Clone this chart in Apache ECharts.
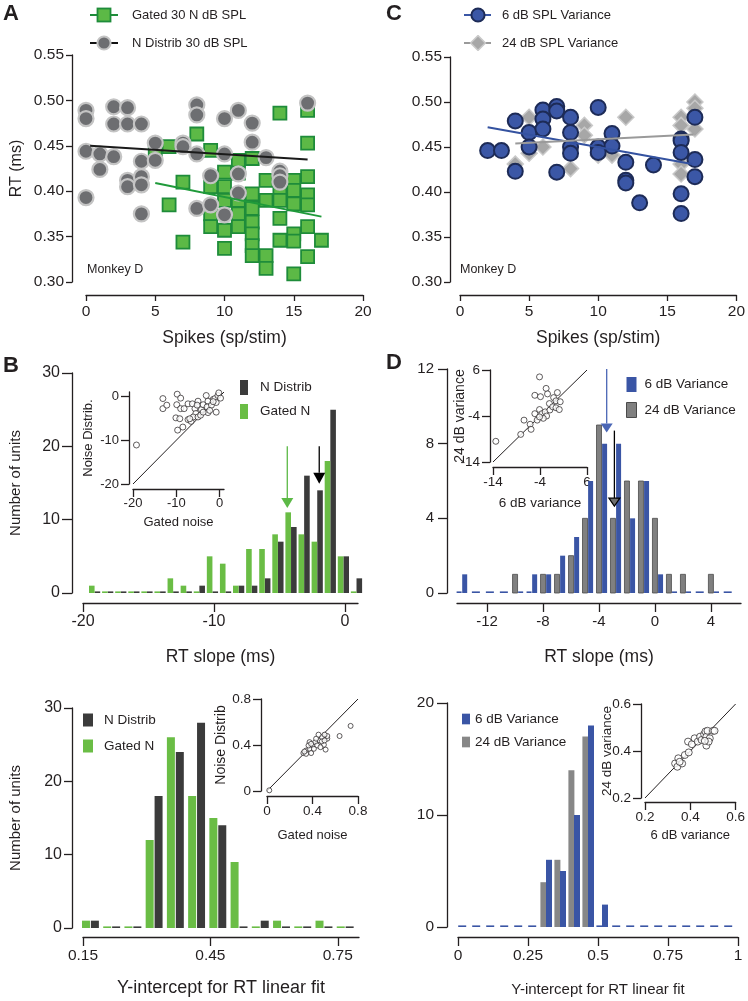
<!DOCTYPE html>
<html><head><meta charset="utf-8">
<script src="https://cdn.jsdelivr.net/npm/echarts@6/dist/echarts.min.js"></script>
<style>html,body{margin:0;padding:0;background:#fff}#c{width:748px;height:1001px}</style>
</head><body><div id="c"></div>
<script>
// ---------------- DATA ----------------
// Panel A: RT vs spikes (Monkey D)
const gatedA = [[5,0.445],[6,0.449],[6,0.385],[7,0.410],[7,0.344],[8,0.463],[9,0.445],[9,0.405],[9,0.375],[9,0.361],[10,0.421],[10,0.405],[10,0.390],[10,0.357],[10,0.337],[11,0.434],[11,0.420],[11,0.390],[11,0.375],[11,0.361],[12,0.436],[12,0.397],[12,0.381],[12,0.366],[12,0.353],[12,0.340],[12,0.329],[13,0.412],[13,0.390],[13,0.329],[13,0.315],[14,0.486],[14,0.401],[14,0.390],[14,0.370],[14,0.346],[15,0.412],[15,0.401],[15,0.386],[15,0.353],[15,0.345],[15,0.309],[16,0.489],[16,0.453],[16,0.416],[16,0.396],[16,0.385],[16,0.361],[16,0.328],[17,0.346]];
const ndistA = [[0,0.489],[0,0.480],[0,0.444],[0,0.393],[1,0.441],[1,0.424],[2,0.493],[2,0.474],[2,0.438],[3,0.492],[3,0.474],[3,0.412],[3,0.405],[4,0.474],[4,0.433],[4,0.416],[4,0.407],[4,0.375],[5,0.453],[5,0.434],[7,0.453],[7,0.449],[8,0.495],[8,0.484],[8,0.441],[8,0.381],[9,0.417],[9,0.385],[10,0.480],[10,0.441],[10,0.374],[11,0.489],[11,0.419],[11,0.398],[12,0.475],[12,0.454],[13,0.437],[14,0.422],[14,0.417],[14,0.410],[16,0.497]];
const fitNdistA = [[0.3,0.450],[16,0.435]];
const fitGatedA = [[5,0.409],[17,0.372]];

// Panel C
const var6C = [[2,0.446],[3,0.446],[4,0.479],[4,0.423],[5,0.466],[5,0.450],[6,0.491],[6,0.481],[6,0.470],[7,0.495],[7,0.490],[7,0.422],[8,0.483],[8,0.466],[8,0.450],[8,0.443],[10,0.494],[10,0.450],[10,0.444],[11,0.465],[11,0.451],[12,0.433],[12,0.413],[12,0.410],[13,0.388],[14,0.430],[16,0.459],[16,0.457],[16,0.444],[16,0.398],[16,0.376],[17,0.483],[17,0.436],[17,0.417]];
const var24C = [[4,0.431],[5,0.483],[5,0.443],[6,0.450],[7,0.492],[8,0.426],[9,0.474],[9,0.463],[10,0.441],[11,0.441],[12,0.483],[16,0.483],[16,0.474],[16,0.431],[16,0.420],[17,0.500],[17,0.493],[17,0.470]];
const fit6C = [[2,0.472],[16.8,0.431]];
const fit24C = [[4,0.454],[16.9,0.464]];

// Panel B: RT slope histograms
const slopeBinsB = [-19,-18,-17,-16,-15,-14,-13,-12,-11,-10,-9,-8,-7,-6,-5,-4,-3,-2,-1,0,1];
const ndistSlopeB = [0,0,0,0,0,0,0,0,1,0,0,1,1,2,7,9,16,14,25,5,2];
const gatedSlopeB = [1,0,0,0,0,0,2,1,0,5,4,1,6,6,8,11,8,7,18,5,0];
const arrowsB = [[-4.4,20,11.6],[-1.96,20,14.9]]; // [x, top, tip]
const insetB = [[-19.2,-11.1],[-13.1,-0.5],[-13.1,-2.8],[-12.2,-2.0],[-9.8,0.5],[-9.0,-0.4],[-9.9,-1.9],[-9.0,-2.8],[-10.1,-4.9],[-9.2,-5.1],[-8.5,-7.0],[-9.7,-7.7],[-8.2,-2.8],[-7.3,-1.7],[-7.3,-5.3],[-6.6,-5.7],[-6.3,-1.7],[-5.7,-2.8],[-5.0,-1.1],[-5.5,-3.9],[-6.1,-4.7],[-5.0,-4.7],[-4.4,-4.3],[-4.2,-3.0],[-3.8,-1.9],[-3.1,0.2],[-2.7,-1.1],[-2.9,-2.4],[-2.7,-3.7],[-1.9,-2.0],[-1.5,-0.7],[-1.1,-0.5],[-0.8,-1.4],[-0.4,0.2],[-0.8,-3.6],[-0.2,0.8],[0.2,-0.4],[-3.8,-3.6],[-2.3,-3.2],[-5.2,-2.0],[-6.9,-5.1],[-1.5,-1.2]];

// Panel D
const slopeBinsD = [-14,-13,-12,-11,-10,-9,-8,-7,-6,-5,-4,-3,-2,-1,0,1,2,3,4,5];
const var24SlopeD = [0,0,0,0,1,0,1,1,2,4,9,4,6,6,4,1,1,0,1,0];
const var6SlopeD = [1,0,0,0,0,1,1,2,3,6,8,8,4,6,1,0,0,0,0,0];
const arrowsD6 = [[-3.45,12,8.6]];
const arrowsD24 = [[-2.9,8.7,4.65]];
const insetD = [[-13.4,-9.5],[-8.1,-8.0],[-7.4,-4.9],[-6.1,-5.8],[-5.9,-6.9],[-5.1,-3.5],[-5.1,0.5],[-4.1,4.5],[-3.9,0.2],[-4.1,-2.6],[-3.6,-3.5],[-4.6,-4.9],[-2.9,-3.1],[-2.6,-4.0],[-3.3,-4.5],[-2.7,2.0],[-2.4,0.8],[-2.0,-1.3],[-1.9,-2.7],[-1.1,0.0],[-1.3,-2.0],[-0.6,-0.7],[-0.6,-2.2],[-0.3,1.1],[0.3,-0.9],[0.1,-2.6],[-4.1,-4.2]];

// Panel E: intercept histograms
const interceptBinsE = [0.15,0.20,0.25,0.30,0.35,0.40,0.45,0.50,0.55,0.60,0.65,0.70,0.75];
const gatedIntE = [1,0,0,12,26,18,15,9,0,1,0,1,0];
const ndistIntE = [1,0,0,18,24,28,14,0,1,0,0,0,0];
const insetE = [[0.02,0.006],[0.735,0.566],[0.638,0.478],[0.515,0.36],[0.32,0.33],[0.344,0.352],[0.374,0.367],[0.388,0.33],[0.403,0.396],[0.424,0.425],[0.441,0.396],[0.462,0.44],[0.482,0.469],[0.5,0.402],[0.47,0.381],[0.53,0.455],[0.53,0.478],[0.506,0.49],[0.482,0.431],[0.412,0.367],[0.374,0.425],[0.365,0.396],[0.344,0.323],[0.432,0.455],[0.453,0.49],[0.506,0.44],[0.329,0.343],[0.388,0.41]];

// Panel F
const interceptBinsF = [0.00,0.05,0.10,0.15,0.20,0.25,0.30,0.35,0.40,0.45,0.50,0.55,0.60,0.65,0.70,0.75,0.80,0.85,0.90,0.95];
const var24IntF = [0,0,0,0,0,0,4,6,14,17,0,0,0,0,0,0,0,0,0,0];
const var6IntF = [0,0,0,0,0,0,6,5,10,18,2,0,0,0,0,0,0,0,0,0];
const insetF = [[0.333,0.347],[0.343,0.333],[0.347,0.369],[0.364,0.347],[0.353,0.354],[0.376,0.383],[0.393,0.394],[0.39,0.44],[0.407,0.429],[0.419,0.454],[0.433,0.44],[0.443,0.461],[0.45,0.447],[0.461,0.471],[0.467,0.483],[0.471,0.461],[0.476,0.486],[0.486,0.454],[0.471,0.423],[0.481,0.44],[0.5,0.486],[0.507,0.486],[0.464,0.443]];

// ---------------- STYLE ----------------
const INK = '#231f20';
const FONT = '"Liberation Sans", Arial, Helvetica, sans-serif';
const GREEN = '#5cb946', GREEN_D = '#1e8c3a', GREEN_BAR = '#6abd45';
const BLACK_BAR = '#3b3b3b';
const BLUE = '#3b57a6', BLUE_D = '#1d2b57', BLUE_BAR = '#3a55a5';
const GRAY_BAR = '#808080', GRAY_BAR_F = '#878787';

const grids = [
  {left:86, top:55, width:277, height:227},   // 0 A
  {left:460, top:57, width:279, height:225},  // 1 C
  {left:83, top:373, width:275, height:220},  // 2 B
  {left:457, top:369, width:284, height:224}, // 3 D
  {left:83, top:708, width:276, height:220},  // 4 E
  {left:458, top:703, width:280, height:224}, // 5 F
  {left:133, top:392, width:91, height:92},   // 6 inset B
  {left:493, top:370, width:94, height:92},   // 7 inset D
  {left:267, top:699, width:91, height:92},   // 8 inset E
  {left:645, top:704, width:93, height:94}    // 9 inset F
];

function ax(o) {
  const a = {
    type: 'value', gridIndex: o.g, min: o.min, max: o.max, offset: o.offset || 0,
    splitLine: {show: false},
    axisLine: {show: true, onZero: false, lineStyle: {color: INK, width: 1.3}},
    axisTick: {show: true, length: o.tick || 8, lineStyle: {color: INK, width: 1.3}, customValues: o.ticks},
    axisLabel: {color: INK, fontSize: o.fs || 15, fontFamily: FONT, margin: o.margin || 10, customValues: o.ticks, hideOverlap: false},
    name: o.name || '', nameLocation: 'middle', nameGap: o.nameGap || 30, nameMoveOverlap: false,
    nameTextStyle: {color: INK, fontSize: o.nfs || 16, fontFamily: FONT}
  };
  if (o.fmt) a.axisLabel.formatter = o.fmt;
  return a;
}
const f2 = v => v.toFixed(2);

const xAxes = [
  ax({g:0, min:0, max:20, ticks:[0,5,10,15,20], offset:13, tick:6, margin:9, fs:15.5, name:'Spikes (sp/stim)', nameGap:34, nfs:17.5}),
  ax({g:1, min:0, max:20, ticks:[0,5,10,15,20], offset:13, tick:6, margin:9, fs:15.5, name:'Spikes (sp/stim)', nameGap:34, nfs:17.5}),
  ax({g:2, min:-20, max:1, ticks:[-20,-10,0], offset:10, tick:9, margin:11, fs:16, name:'RT slope (ms)', nameGap:45, nfs:17.5}),
  ax({g:3, min:-14.15, max:6.15, ticks:[-12,-8,-4,0,4], offset:10, tick:9, margin:11, fs:15, name:'RT slope (ms)', nameGap:45, nfs:17.5}),
  ax({g:4, min:0.15, max:0.8, ticks:[0.15,0.45,0.75], offset:9, tick:9, margin:11, fs:15.5, fmt:f2, name:'Y-intercept for RT linear fit', nameGap:42, nfs:18}),
  ax({g:5, min:0, max:1, ticks:[0,0.25,0.5,0.75,1], offset:10, tick:9, margin:11, fs:15.5, name:'Y-intercept for RT linear fit', nameGap:45, nfs:15}),
  ax({g:6, min:-20, max:1, ticks:[-20,-10,0], offset:5, tick:8, margin:8, fs:13, name:'Gated noise', nameGap:27, nfs:13}),
  ax({g:7, min:-14, max:6, ticks:[-14,-4,6], offset:5, tick:8, margin:8, fs:13.5, name:'6 dB variance', nameGap:29, nfs:13.5}),
  ax({g:8, min:0, max:0.8, ticks:[0,0.4,0.8], offset:5, tick:8, margin:8, fs:13.5, name:'Gated noise', nameGap:33, nfs:13}),
  ax({g:9, min:0.2, max:0.6, ticks:[0.2,0.4,0.6], offset:4, tick:8, margin:8, fs:13.5, name:'6 dB variance', nameGap:27, nfs:13})
];
const yAxes = [
  ax({g:0, min:0.3, max:0.55, ticks:[0.3,0.35,0.4,0.45,0.5,0.55], offset:14, tick:6, margin:8, fs:15.5, fmt:f2, name:'RT (ms)', nameGap:47, nfs:16}),
  ax({g:1, min:0.3, max:0.55, ticks:[0.3,0.35,0.4,0.45,0.5,0.55], offset:10, tick:6, margin:8, fs:15.5, fmt:f2}),
  ax({g:2, min:0, max:30, ticks:[0,10,20,30], offset:11, tick:10, margin:12, fs:16, name:'Number of units', nameGap:49, nfs:15}),
  ax({g:3, min:0, max:12, ticks:[0,4,8,12], offset:10, tick:9, margin:13, fs:15}),
  ax({g:4, min:0, max:30, ticks:[0,10,20,30], offset:11, tick:8, margin:10, fs:16, name:'Number of units', nameGap:49, nfs:15}),
  ax({g:5, min:0, max:20, ticks:[0,10,20], offset:11, tick:10, margin:13, fs:15.5}),
  ax({g:6, min:-20, max:1, ticks:[-20,-10,0], offset:4, tick:8, margin:10, fs:13, name:'Noise Distrib.', nameGap:34, nfs:13}),
  ax({g:7, min:-14, max:6, ticks:[-14,-4,6], offset:3, tick:8, margin:10, fs:13.5, name:'24 dB variance', nameGap:23, nfs:14}),
  ax({g:8, min:0, max:0.8, ticks:[0,0.4,0.8], offset:6, tick:8, margin:10, fs:13.5, name:'Noise Distrib', nameGap:33, nfs:14}),
  ax({g:9, min:0.2, max:0.6, ticks:[0.2,0.4,0.6], offset:4, tick:8, margin:10, fs:13.5, name:'24 dB variance', nameGap:27, nfs:13.5})
];

// histogram custom series
function hist(o) {
  const data = o.centers.map((c, i) => [c + o.shift, o.counts[i]]);
  return {
    type: 'custom', name: o.name, coordinateSystem: 'cartesian2d',
    xAxisIndex: o.g, yAxisIndex: o.g, z: o.z || 3,
    itemStyle: {color: o.color},
    data: data,
    renderItem: function (params, api) {
      const i = params.dataIndex;
      const x = api.value(0), y = api.value(1);
      const base = api.coord([x, 0]);
      const w = o.barPx;
      if (y > 0) {
        const top = api.coord([x, y]);
        return {type: 'rect', shape: {x: base[0] - w / 2, y: top[1], width: w, height: base[1] - top[1]},
          style: {fill: o.color, stroke: o.stroke || null, lineWidth: o.stroke ? 0.8 : 0}};
      }
      const dc = o.dashColor || o.color;
      if (o.partner && o.partner.counts[i] === 0) {
        if (!o.lead) return null;
        const mid = api.coord([o.centers[i] + (o.shift + o.partner.shift) / 2, 0]);
        return {type: 'rect', shape: {x: mid[0] - o.dashPx / 2, y: base[1] - 1.6, width: o.dashPx, height: 1.6}, style: {fill: dc}};
      }
      return {type: 'rect', shape: {x: base[0] - w / 2, y: base[1] - 1.6, width: w, height: 1.6}, style: {fill: dc}};
    }
  };
}

function arrows(o) {
  return {
    type: 'custom', coordinateSystem: 'cartesian2d', xAxisIndex: o.g, yAxisIndex: o.g, z: 6, silent: true,
    data: o.data,
    renderItem: function (params, api) {
      const x = api.value(0);
      const p1 = api.coord([x, api.value(1)]);
      const p2 = api.coord([x, api.value(2)]);
      const h = o.headH, w = o.headW;
      return {type: 'group', children: [
        {type: 'line', shape: {x1: p1[0], y1: p1[1], x2: p2[0], y2: p2[1] - h}, style: {stroke: o.line, lineWidth: 1.3}},
        {type: 'polygon', shape: {points: [[p2[0] - w / 2, p2[1] - h], [p2[0] + w / 2, p2[1] - h], [p2[0], p2[1]]]},
          style: {fill: o.fill, stroke: o.stroke || null, lineWidth: o.stroke ? 1.2 : 0}}
      ]};
    }
  };
}

function fitLine(g, data, color, z) {
  return {type: 'line', xAxisIndex: g, yAxisIndex: g, data: data, symbol: 'none', silent: true, z: z || 5,
    lineStyle: {color: color, width: 2}};
}
function insetPts(g, data, size) {
  return {type: 'scatter', xAxisIndex: g, yAxisIndex: g, data: data, symbol: 'circle', symbolSize: size, z: 5,
    itemStyle: {color: '#fff', borderColor: INK, borderWidth: 0.9}};
}

const svg = s => 'image://data:image/svg+xml;charset=utf-8,' + encodeURIComponent(s);
const iconGated = svg('<svg xmlns="http://www.w3.org/2000/svg" width="37" height="16"><line x1="0" y1="8" x2="28" y2="8" stroke="' + GREEN_D + '" stroke-width="2"/><rect x="7.5" y="1.5" width="13" height="13" fill="' + GREEN + '" stroke="' + GREEN_D + '" stroke-width="1.8"/></svg>');
const iconNdist = svg('<svg xmlns="http://www.w3.org/2000/svg" width="37" height="16"><line x1="0" y1="8" x2="28" y2="8" stroke="#111" stroke-width="2"/><circle cx="14" cy="8" r="6.6" fill="#6d6e71" stroke="#c4c4c4" stroke-width="2"/></svg>');
const icon6 = svg('<svg xmlns="http://www.w3.org/2000/svg" width="33" height="16"><line x1="0" y1="8" x2="27" y2="8" stroke="' + BLUE + '" stroke-width="2"/><circle cx="14" cy="8" r="6.6" fill="' + BLUE + '" stroke="' + BLUE_D + '" stroke-width="2"/></svg>');
const icon24 = svg('<svg xmlns="http://www.w3.org/2000/svg" width="33" height="16"><line x1="0" y1="8" x2="27" y2="8" stroke="#9a9a9a" stroke-width="2"/><path d="M14,0.6 L21.4,8 L14,15.4 L6.6,8 Z" fill="#a7a7a7" stroke="#c9c9c9" stroke-width="1.5"/></svg>');
// bar legend icons (square + invisible spacer to set text gap)
const sq = (w, h, tot) => 'path://M0,0 L' + w + ',0 L' + w + ',' + h + ' L0,' + h + ' Z M' + tot + ',' + (h / 2) + ' L' + tot + ',' + (h / 2);
const plain = c => ({color: c, borderWidth: 0});

const legTxt = {color: INK, fontSize: 13.5, fontFamily: FONT};
const legends = [
  {left: 90, top: 7, padding: 0, orient: 'vertical', itemWidth: 37, itemHeight: 16, itemGap: 12, selectedMode: false, textStyle: {color: INK, fontSize: 13, fontFamily: FONT},
    data: [{name: 'Gated 30 N dB SPL', icon: iconGated}, {name: 'N Distrib 30 dB SPL', icon: iconNdist}]},
  {left: 464, top: 7, padding: 0, orient: 'vertical', itemWidth: 33, itemHeight: 16, itemGap: 12, selectedMode: false, textStyle: {color: INK, fontSize: 13, fontFamily: FONT},
    data: [{name: '6 dB SPL Variance', icon: icon6}, {name: '24 dB SPL Variance', icon: icon24}]},
  {left: 240, top: 380, padding: 0, orient: 'vertical', itemWidth: 15, itemHeight: 15, itemGap: 9, selectedMode: false, textStyle: legTxt,
    data: [{name: 'N Distrib', icon: sq(8, 15, 15), itemStyle: plain(BLACK_BAR)}, {name: 'Gated N', icon: sq(8, 15, 15), itemStyle: plain(GREEN_BAR)}]},
  {left: 626, top: 377, padding: 0, orient: 'vertical', itemWidth: 13, itemHeight: 15, itemGap: 10, selectedMode: false, textStyle: legTxt,
    data: [{name: '6 dB Variance', icon: sq(10, 15, 13), itemStyle: plain(BLUE_BAR)},
           {name: '24 dB Variance', icon: sq(10, 15, 13), itemStyle: {color: GRAY_BAR, borderColor: '#4a4a4a', borderWidth: 1}}]},
  {left: 83, top: 713, padding: 0, orient: 'vertical', itemWidth: 16, itemHeight: 13, itemGap: 12, selectedMode: false, textStyle: legTxt,
    data: [{name: 'N Distrib', icon: sq(10, 13, 16), itemStyle: plain(BLACK_BAR)}, {name: 'Gated N', icon: sq(10, 13, 16), itemStyle: plain(GREEN_BAR)}]},
  {left: 462, top: 712, padding: 0, orient: 'vertical', itemWidth: 8, itemHeight: 12, itemGap: 9, selectedMode: false, textStyle: legTxt,
    data: [{name: '6 dB Variance', icon: sq(9, 12, 8), itemStyle: plain(BLUE_BAR)}, {name: '24 dB Variance', icon: sq(9, 12, 8), itemStyle: plain(GRAY_BAR_F)}]}
];

const series = [
  // Panel A
  {type: 'scatter', name: 'Gated 30 N dB SPL', xAxisIndex: 0, yAxisIndex: 0, data: gatedA, symbol: 'rect', symbolSize: 13, z: 2,
    itemStyle: {color: GREEN, borderColor: GREEN_D, borderWidth: 1.8, opacity: 1}},
  {type: 'scatter', name: 'N Distrib 30 dB SPL', xAxisIndex: 0, yAxisIndex: 0, data: ndistA, symbol: 'circle', symbolSize: 15, z: 3,
    itemStyle: {color: '#6d6e71', borderColor: '#c4c4c4', borderWidth: 2.2, opacity: 1}},
  fitLine(0, fitNdistA, '#1a1a1a'),
  fitLine(0, fitGatedA, '#1f9a3a'),
  // Panel C
  {type: 'scatter', name: '24 dB SPL Variance', xAxisIndex: 1, yAxisIndex: 1, data: var24C, symbol: 'diamond', symbolSize: 16, z: 2,
    itemStyle: {color: '#a7a7a7', borderColor: '#c9c9c9', borderWidth: 1.5, opacity: 1}},
  {type: 'scatter', name: '6 dB SPL Variance', xAxisIndex: 1, yAxisIndex: 1, data: var6C, symbol: 'circle', symbolSize: 15, z: 3,
    itemStyle: {color: BLUE, borderColor: BLUE_D, borderWidth: 2, opacity: 1}},
  fitLine(1, fit6C, '#3452a0'),
  fitLine(1, fit24C, '#9a9a9a'),
  // Panel B
  hist({name: 'N Distrib', g: 2, centers: slopeBinsB, counts: ndistSlopeB, shift: 0.1, color: BLACK_BAR, barPx: 5.6}),
  hist({name: 'Gated N', g: 2, centers: slopeBinsB, counts: gatedSlopeB, shift: -0.33, color: GREEN_BAR, barPx: 5.6}),
  arrows({g: 2, data: [arrowsB[0]], line: GREEN, fill: GREEN, headW: 12, headH: 10}),
  arrows({g: 2, data: [arrowsB[1]], line: '#000', fill: '#000', headW: 12, headH: 11}),
  {type: 'line', xAxisIndex: 6, yAxisIndex: 6, data: [[-20, -20], [1, 1]], symbol: 'none', silent: true, z: 4, lineStyle: {color: INK, width: 1}},
  insetPts(6, insetB, 6),
  // Panel D
  hist({name: '24 dB Variance', g: 3, centers: slopeBinsD, counts: var24SlopeD, shift: 0, color: GRAY_BAR, stroke: '#4a4a4a', barPx: 5,
    dashColor: BLUE_BAR, partner: {counts: var6SlopeD, shift: 0.4}, lead: false}),
  hist({name: '6 dB Variance', g: 3, centers: slopeBinsD, counts: var6SlopeD, shift: 0.4, color: BLUE_BAR, barPx: 5,
    dashColor: BLUE_BAR, partner: {counts: var24SlopeD, shift: 0}, lead: true, dashPx: 8}),
  arrows({g: 3, data: arrowsD6, line: '#4a66b5', fill: '#4a66b5', headW: 12, headH: 9}),
  arrows({g: 3, data: arrowsD24, line: '#000', fill: '#6e6e6e', stroke: '#000', headW: 11, headH: 8}),
  {type: 'line', xAxisIndex: 7, yAxisIndex: 7, data: [[-14, -14], [6, 6]], symbol: 'none', silent: true, z: 4, lineStyle: {color: INK, width: 1}},
  insetPts(7, insetD, 6),
  // Panel E
  hist({name: 'Gated N', g: 4, centers: interceptBinsE, counts: gatedIntE, shift: 0.007, color: GREEN_BAR, barPx: 8}),
  hist({name: 'N Distrib', g: 4, centers: interceptBinsE, counts: ndistIntE, shift: 0.028, color: BLACK_BAR, barPx: 8}),
  {type: 'line', xAxisIndex: 8, yAxisIndex: 8, data: [[0, 0], [0.8, 0.8]], symbol: 'none', silent: true, z: 4, lineStyle: {color: INK, width: 1}},
  insetPts(8, insetE, 5),
  // Panel F
  hist({name: '24 dB Variance', g: 5, centers: interceptBinsF, counts: var24IntF, shift: 0.005, color: GRAY_BAR_F, barPx: 6,
    dashColor: BLUE_BAR, partner: {counts: var6IntF, shift: 0.025}, lead: false}),
  hist({name: '6 dB Variance', g: 5, centers: interceptBinsF, counts: var6IntF, shift: 0.025, color: BLUE_BAR, barPx: 6,
    dashColor: BLUE_BAR, partner: {counts: var24IntF, shift: 0.005}, lead: true, dashPx: 8}),
  {type: 'line', xAxisIndex: 9, yAxisIndex: 9, data: [[0.2, 0.2], [0.6, 0.6]], symbol: 'none', silent: true, z: 4, lineStyle: {color: INK, width: 1}},
  insetPts(9, insetF, 7)
];

const letter = (t, x, y) => ({type: 'text', left: x, top: y, style: {text: t, fill: INK, font: 'bold 22px ' + FONT}});
const note = (t, x, y) => ({type: 'text', left: x, top: y, style: {text: t, fill: INK, font: '12.5px ' + FONT}});

const chart = echarts.init(document.getElementById('c'), null, {renderer: 'canvas'});
chart.setOption({
  animation: false,
  backgroundColor: '#fff',
  textStyle: {fontFamily: FONT},
  grid: grids,
  xAxis: xAxes,
  yAxis: yAxes,
  legend: legends,
  series: series,
  graphic: [
    letter('A', 3, 3), letter('C', 386, 3), letter('B', 3, 355), letter('D', 386, 352),
    note('Monkey D', 87, 263), note('Monkey D', 460, 263)
  ]
});
</script></body></html>
